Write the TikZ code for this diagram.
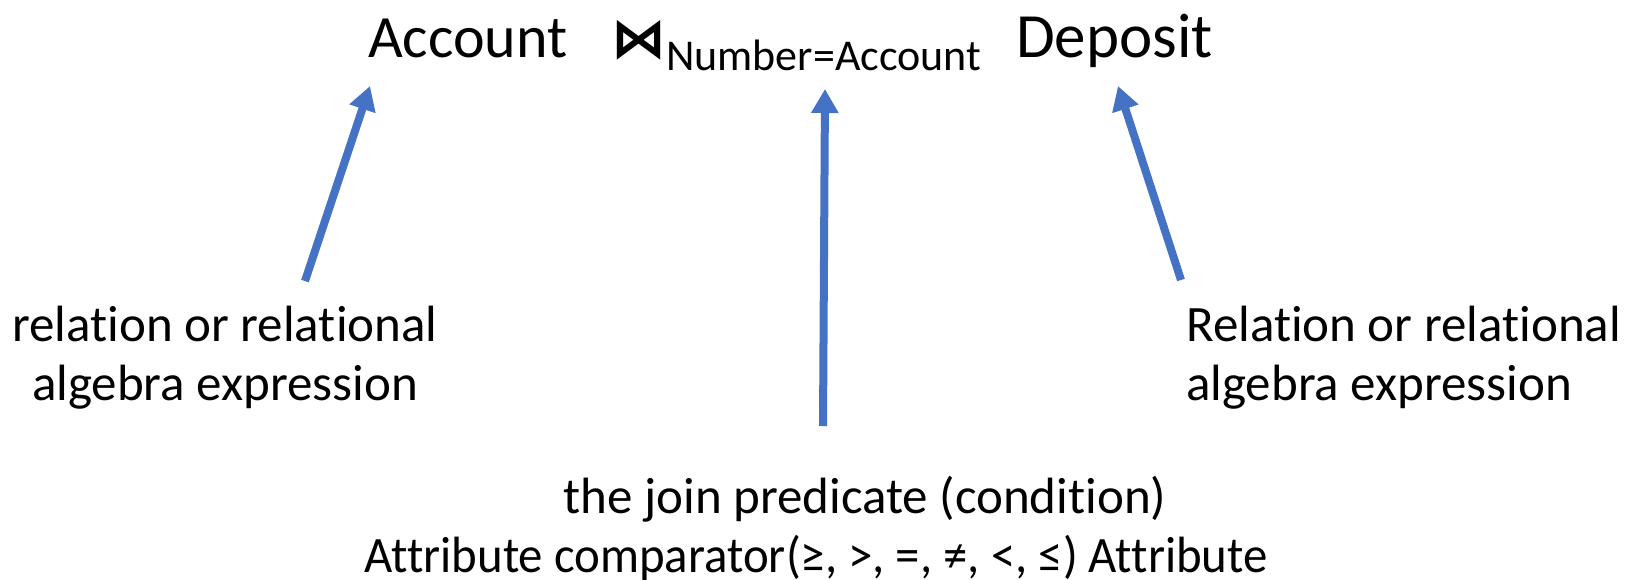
\documentclass[tikz,border=0pt]{standalone}
\usepackage{fontspec}
\setmainfont{Carlito}[Ligatures={NoCommon}]
\newfontfamily\symfont{DejaVu Sans}
\usetikzlibrary{arrows.meta}
\definecolor{arrowblue}{HTML}{4472C4}
\begin{document}
\begin{tikzpicture}[x=1pt,y=-1pt,
  arr/.style={draw=arrowblue, line width=8pt, -{Triangle[length=24pt,width=26pt]}},
  lbl/.style={inner sep=0pt, font=\fontsize{51}{59}\selectfont},
  ttl/.style={inner sep=0pt, anchor=base west, font=\fontsize{60}{72}\selectfont},
]
\useasboundingbox (0,0) rectangle (1628,579);
% title
\node[ttl] (t1) at (368,57) {Account};
\node[ttl, font=\symfont\bfseries\fontsize{55}{60}\selectfont] (t2) at (611,57) {⋈};
\node[ttl, font=\fontsize{44}{52}\selectfont] (t3) at (666,70.6) {Number=Account};
\node[ttl, font=\fontsize{63}{72}\selectfont] (t4) at (1016,57) {Deposit};
% labels
\node[lbl, anchor=base, align=center] (l1) at (225,400) {relation or relational\\algebra expression};
\node[lbl, anchor=base west, align=left] (l2) at (1186,400) {Relation or relational\\algebra expression};
\node[lbl, anchor=base, align=center] (l3) at (816,572) {\hspace*{98pt}the join predicate (condition)\\\scalebox{0.958}[1]{Attribute comparator(≥, >, =, ≠, <, ≤) Attribute}};
% arrow ends
\coordinate (a1s) at (305,281);
\coordinate (a1e) at (370,86);
\coordinate (a2s) at (1181,280);
\coordinate (a2e) at (1118,86);
\coordinate (a3s) at (823,426);
\coordinate (a3e) at (825,89);
\draw[arr] (a1s) -- (a1e);
\draw[arr] (a2s) -- (a2e);
\draw[arr] (a3s) -- (a3e);
\end{tikzpicture}
\end{document}
